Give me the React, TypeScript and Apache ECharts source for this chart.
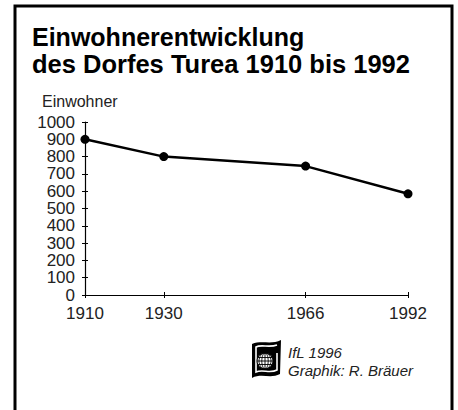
import React, { useEffect, useRef } from "react";
import * as echarts from "echarts";

const years = [1910, 1930, 1966, 1992];
const population = [900, 800, 745, 585];
const yTicks = [0, 100, 200, 300, 400, 500, 600, 700, 800, 900, 1000];
const titleLines = ["Einwohnerentwicklung", "des Dorfes Turea 1910 bis 1992"];
const yAxisName = "Einwohner";
const creditLines = ["IfL 1996", "Graphik: R. Bräuer"];

echarts.graphic.registerShape(
  "ifloutline",
  echarts.graphic.extendPath(
    "M1 5 C10 1 21 6 30 1 L29 35 C20 40 10 34 1 39 Z",
    {}
  )
);
echarts.graphic.registerShape(
  "iflinner",
  echarts.graphic.extendPath(
    "M26 6 C18 9 10 5 5 8 L5 33 C12 30 19 35 26 31 L26 14",
    {}
  )
);

const FONT = "'Liberation Sans', Arial, Helvetica, sans-serif";
const NARROW = "'Liberation Sans Narrow', 'Arial Narrow', 'Liberation Sans', sans-serif";

export default function App() {
  const ref = useRef<HTMLDivElement>(null);
  useEffect(() => {
    if (!ref.current) return;
    const chart = echarts.init(ref.current, undefined, { renderer: "svg" });
    const data = years.map((y, i) => [y, population[i]]);
    chart.setOption({
      animation: false,
      backgroundColor: "#fff",
      grid: { left: 85, right: 50, top: 122, bottom: 115 },
      xAxis: [
        {
          type: "value",
          min: 1910,
          max: 1992,
          splitLine: { show: false },
          axisLine: { show: true, lineStyle: { color: "#000", width: 1.2 } },
          axisTick: { show: true, customValues: years, length: 3, lineStyle: { color: "#000" } },
          axisLabel: {
            customValues: years,
            color: "#222",
            fontFamily: NARROW,
            fontSize: 17,
            margin: 10,
            formatter: (v: number) => String(v),
          },
        },
        {
          type: "value",
          min: 1910,
          max: 1992,
          position: "bottom",
          splitLine: { show: false },
          axisLine: { show: false },
          axisTick: { show: true, inside: true, customValues: years, length: 3, lineStyle: { color: "#000" } },
          axisLabel: { show: false },
        },
      ],
      yAxis: [
        {
          type: "value",
          min: 0,
          max: 1000,
          interval: 100,
          splitLine: { show: false },
          axisLine: { show: true, lineStyle: { color: "#000", width: 1.2 } },
          axisTick: { show: true, length: 3, lineStyle: { color: "#000" } },
          axisLabel: {
            color: "#222",
            fontFamily: NARROW,
            fontSize: 17,
            margin: 10,
            customValues: yTicks,
            formatter: (v: number) => String(v),
          },
        },
        {
          type: "value",
          min: 0,
          max: 1000,
          interval: 100,
          position: "left",
          splitLine: { show: false },
          axisLine: { show: false },
          axisTick: { show: true, inside: true, length: 3, lineStyle: { color: "#000" } },
          axisLabel: { show: false },
        },
      ],
      series: [
        {
          type: "line",
          data,
          symbol: "circle",
          symbolSize: 9,
          lineStyle: { color: "#000", width: 2.5 },
          itemStyle: { color: "#000" },
        },
      ],
      graphic: [
        {
          type: "rect",
          shape: { x: 15, y: 6, width: 437, height: 430 },
          style: { fill: "none", stroke: "#000", lineWidth: 3 },
          silent: true,
        },
        {
          type: "text",
          x: 32,
          y: 37,
          style: {
            text: titleLines[0],
            fontFamily: FONT,
            fontWeight: "bold",
            fontSize: 25,
            lineHeight: 20,
            fill: "#000",
            verticalAlign: "middle",
          },
        },
        {
          type: "text",
          x: 32,
          y: 64,
          style: {
            text: titleLines[1],
            fontFamily: FONT,
            fontWeight: "bold",
            fontSize: 25.5,
            lineHeight: 20,
            fill: "#000",
            verticalAlign: "middle",
          },
        },
        {
          type: "text",
          x: 42,
          y: 101,
          style: { text: yAxisName, fontFamily: FONT, fontSize: 16, fill: "#222", verticalAlign: "middle" },
        },
        {
          type: "text",
          x: 288,
          y: 352,
          style: { text: creditLines[0], fontFamily: FONT, fontStyle: "italic", fontSize: 15, lineHeight: 16, fill: "#222", verticalAlign: "middle" },
        },
        {
          type: "text",
          x: 288,
          y: 370,
          style: { text: creditLines[1], fontFamily: FONT, fontStyle: "italic", fontSize: 15, lineHeight: 16, fill: "#222", verticalAlign: "middle" },
        },
        {
          type: "group",
          x: 251,
          y: 339,
          children: [
            { type: "ifloutline", style: { fill: "#000" } },
            { type: "iflinner", style: { fill: "none", stroke: "#fff", lineWidth: 1.6 } },
            { type: "circle", shape: { cx: 14, cy: 22, r: 8 }, style: { fill: "#fff", stroke: "#000", lineWidth: 1 } },
            { type: "ellipse", shape: { cx: 14, cy: 22, rx: 3.2, ry: 8 }, style: { fill: "none", stroke: "#000", lineWidth: 0.9 } },
            { type: "ellipse", shape: { cx: 14, cy: 22, rx: 6, ry: 8 }, style: { fill: "none", stroke: "#000", lineWidth: 0.9 } },
            { type: "line", shape: { x1: 14, y1: 14, x2: 14, y2: 30 }, style: { stroke: "#000", lineWidth: 0.9 } },
            { type: "line", shape: { x1: 7, y1: 18.5, x2: 21, y2: 18.5 }, style: { stroke: "#000", lineWidth: 0.9 } },
            { type: "line", shape: { x1: 6, y1: 22, x2: 22, y2: 22 }, style: { stroke: "#000", lineWidth: 0.9 } },
            { type: "line", shape: { x1: 7, y1: 25.5, x2: 21, y2: 25.5 }, style: { stroke: "#000", lineWidth: 0.9 } },
          ],
        },
      ],
    });
    return () => chart.dispose();
  }, []);
  return (
    <div
      ref={ref}
      style={{ position: "fixed", left: 0, top: 0, width: 458, height: 410, background: "#fff" }}
    />
  );
}
